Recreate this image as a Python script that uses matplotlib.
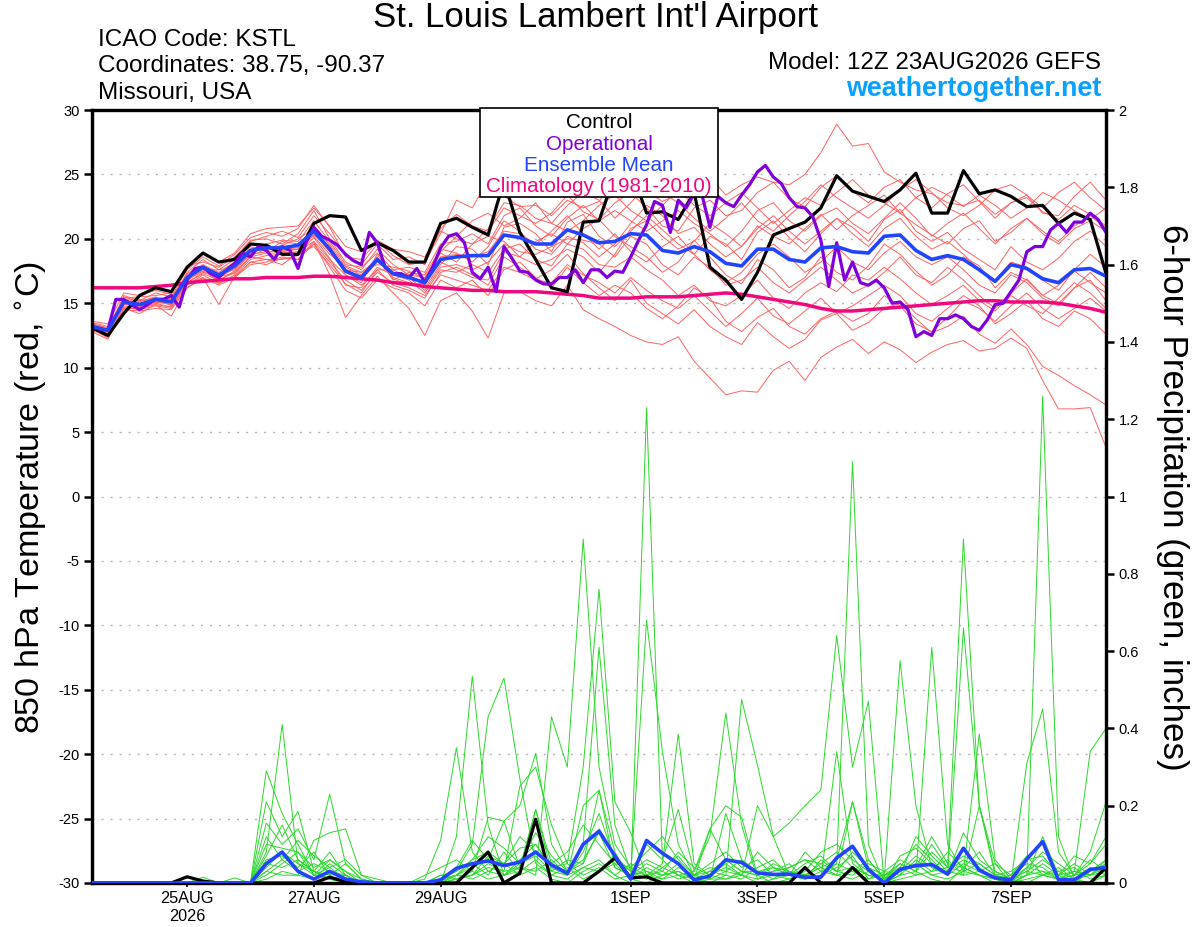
import numpy as np
import matplotlib
matplotlib.use("Agg")
import matplotlib.pyplot as plt
from matplotlib.patches import Rectangle

plt.rcParams['font.family'] = ['Liberation Sans', 'DejaVu Sans']
plt.rcParams['axes.unicode_minus'] = False

# ---- data: 6-hourly GEFS output starting 12Z 23 Aug 2026 ----
start = np.datetime64('2026-08-23T12:00')
times6 = start + np.arange(65) * np.timedelta64(6, 'h')
times3 = start + np.arange(129) * np.timedelta64(3, 'h')   # operational run is 3-hourly

tick_dates = ['2026-08-25', '2026-08-27', '2026-08-29', '2026-09-01',
              '2026-09-03', '2026-09-05', '2026-09-07']
tick_labels = ['25AUG\n2026', '27AUG', '29AUG', '1SEP', '3SEP', '5SEP', '7SEP']

# 850 hPa temperature (C)
control_t = [13.1, 12.5, 14.2, 15.6, 16.2, 15.9, 17.8, 18.9, 18.2, 18.4,
             19.6, 19.5, 18.8, 18.8, 21.2, 21.8, 21.7, 19.1, 19.7, 19.1,
             18.2, 18.2, 21.2, 21.6, 20.9, 20.3, 24.5, 20.5, 18.4, 16.2,
             15.9, 21.3, 21.4, 25.0, 25.5, 22.0, 22.1, 21.5, 23.6, 17.8,
             16.8, 15.3, 17.4, 20.3, 20.8, 21.3, 22.4, 24.9, 23.7, 23.3,
             22.9, 23.8, 25.1, 22.0, 22.0, 25.3, 23.5, 23.8, 23.3, 22.5,
             22.6, 21.2, 22.0, 21.5, 17.3]

oper_t = [13.2, 13.0, 12.9, 15.3, 15.3, 14.9, 14.5, 14.9, 15.3, 15.3,
          15.6, 14.7, 16.8, 17.7, 17.8, 17.3, 17.0, 17.6, 18.1, 18.9,
          18.6, 19.4, 19.1, 18.4, 19.4, 19.1, 17.7, 19.7, 20.9, 20.2,
          19.9, 19.5, 18.8, 18.3, 18.0, 20.5, 19.7, 17.8, 17.3, 17.3,
          17.0, 17.7, 16.6, 17.8, 19.3, 20.2, 20.4, 19.7, 17.4, 16.9,
          17.8, 15.9, 19.4, 18.5, 17.5, 17.4, 16.8, 16.5, 16.5, 17.0,
          17.0, 17.6, 16.6, 17.6, 17.6, 17.0, 17.5, 17.4, 18.6, 19.9,
          21.1, 22.9, 22.6, 20.5, 23.0, 22.4, 23.5, 23.4, 20.9, 23.3,
          22.8, 22.5, 23.4, 24.2, 25.2, 25.7, 24.8, 24.3, 23.2, 22.5,
          22.4, 21.7, 19.9, 16.3, 19.7, 16.8, 18.2, 16.6, 16.4, 16.8,
          16.2, 15.0, 15.1, 14.5, 12.4, 12.8, 12.5, 13.8, 13.8, 14.1,
          13.8, 13.2, 12.9, 13.7, 14.9, 15.0, 15.9, 16.8, 19.0, 19.4,
          19.4, 20.7, 21.2, 20.5, 21.3, 21.3, 22.0, 21.5, 20.5]

mean_t = [13.2, 12.9, 15.1, 14.9, 15.3, 15.1, 17.0, 17.8, 17.2, 17.9,
          19.1, 19.3, 19.3, 19.5, 20.6, 19.2, 17.5, 17.0, 18.4, 17.3,
          17.0, 16.6, 18.4, 18.6, 18.7, 18.7, 20.3, 20.1, 19.6, 19.6,
          20.7, 20.3, 19.7, 19.8, 20.4, 20.3, 19.1, 18.9, 19.4, 19.0,
          18.1, 17.9, 19.2, 19.2, 18.4, 18.2, 19.3, 19.4, 19.0, 18.9,
          20.2, 20.3, 19.1, 18.4, 18.7, 18.4, 17.6, 16.7, 18.0, 17.7,
          16.9, 16.6, 17.6, 17.7, 17.1]

clim_t = [16.2, 16.2, 16.2, 16.2, 16.3, 16.4, 16.6, 16.7, 16.8, 16.9,
          16.9, 17.0, 17.0, 17.0, 17.1, 17.1, 17.0, 16.9, 16.8, 16.6,
          16.5, 16.3, 16.2, 16.1, 16.0, 16.0, 15.9, 15.9, 15.9, 15.8,
          15.7, 15.6, 15.4, 15.4, 15.4, 15.5, 15.5, 15.5, 15.6, 15.7,
          15.8, 15.7, 15.5, 15.3, 15.1, 14.9, 14.6, 14.4, 14.4, 14.5,
          14.6, 14.7, 14.8, 14.9, 15.0, 15.1, 15.2, 15.2, 15.1, 15.1,
          15.1, 15.0, 14.8, 14.6, 14.3]

temp_members = [
    [13.4, 12.6, 15.6, 15.2, 15.8, 15.5, 17.6, 18.6, 17.9, 18.8,
     20.1, 20.5, 20.2, 20.8, 22.6, 20.9, 18.6, 18.4, 19.8, 18.7,
     18.0, 18.2, 20.4, 23.0, 22.4, 24.6, 23.3, 22.5, 22.6, 21.8,
     23.0, 22.4, 22.9, 24.6, 24.8, 23.7, 22.9, 23.5, 24.2, 24.8,
     23.4, 24.2, 24.8, 24.4, 24.2, 25.0, 26.7, 28.9, 27.2, 27.4,
     25.2, 24.4, 23.8, 23.5, 22.8, 22.6, 23.0, 21.9, 22.8, 23.2,
     22.1, 21.5, 22.6, 21.9, 21.0],
    [13.0, 12.3, 14.6, 14.2, 14.9, 14.0, 16.2, 17.0, 14.9, 17.1,
     18.2, 18.0, 18.5, 18.4, 19.8, 17.2, 13.9, 15.6, 17.1, 15.8,
     14.6, 12.5, 15.2, 15.8, 14.4, 12.3, 15.8, 15.9, 15.2, 14.8,
     16.4, 14.5, 13.8, 13.2, 12.5, 12.0, 11.8, 12.4, 10.5, 9.2,
     7.9, 8.2, 8.1, 9.8, 10.5, 9.0, 10.8, 11.6, 12.2, 11.1,
     12.0, 11.4, 10.4, 11.2, 11.8, 12.1, 11.3, 11.5, 12.3, 11.5,
     9.0, 6.8, 6.8, 6.9, 3.8],
    [13.3, 12.8, 14.8, 14.6, 15.0, 14.7, 16.6, 17.3, 16.8, 17.4,
     18.6, 18.4, 18.0, 18.9, 19.4, 18.0, 16.5, 15.8, 17.6, 16.4,
     16.0, 15.4, 17.4, 17.8, 17.2, 16.4, 18.6, 17.8, 16.9, 17.6,
     18.8, 17.3, 16.2, 15.2, 16.8, 15.0, 14.2, 13.4, 14.5, 13.2,
     12.4, 11.8, 13.5, 12.4, 11.5, 12.2, 13.7, 14.2, 12.9, 13.5,
     14.6, 15.0, 13.8, 12.7, 13.2, 14.0, 12.6, 11.9, 13.0, 11.8,
     10.1, 9.4, 8.6, 7.9, 7.1],
    [13.5, 13.2, 15.4, 15.5, 15.6, 15.8, 17.9, 18.2, 17.8, 18.6,
     19.8, 20.2, 20.6, 20.1, 21.8, 20.4, 18.8, 18.0, 19.6, 18.4,
     18.6, 18.0, 20.8, 21.9, 21.0, 20.6, 22.4, 21.8, 21.2, 22.0,
     23.4, 22.1, 21.5, 22.8, 23.6, 22.4, 21.0, 20.6, 22.4, 23.0,
     21.8, 22.2, 23.6, 24.4, 23.1, 22.5, 24.0, 24.9, 23.7, 22.8,
     24.0, 24.6, 23.2, 22.4, 23.5, 24.2, 22.9, 21.6, 22.8, 23.4,
     22.0, 21.8, 23.3, 24.4, 23.0],
    [13.1, 12.7, 15.0, 14.7, 15.4, 14.8, 16.8, 17.6, 17.3, 17.6,
     18.9, 19.6, 19.0, 19.2, 21.0, 19.5, 17.2, 16.6, 18.8, 17.0,
     16.6, 16.2, 18.0, 19.4, 19.2, 18.0, 20.9, 21.2, 20.4, 19.0,
     21.3, 21.9, 20.2, 19.4, 20.6, 21.8, 20.7, 19.6, 18.8, 20.2,
     19.6, 18.4, 20.5, 21.4, 20.1, 19.0, 20.4, 21.6, 20.9, 19.8,
     21.5, 22.3, 20.6, 19.8, 20.5, 19.2, 18.4, 17.6, 19.4, 18.2,
     17.6, 18.5, 19.8, 20.6, 19.4],
    [12.9, 12.5, 15.3, 15.0, 15.1, 15.4, 17.2, 17.9, 16.9, 18.0,
     19.4, 19.0, 19.8, 19.6, 20.2, 18.8, 17.9, 17.4, 18.0, 17.8,
     17.5, 16.9, 18.9, 18.2, 19.6, 20.2, 19.8, 18.6, 19.8, 20.4,
     19.6, 20.8, 21.5, 20.2, 19.4, 18.6, 17.4, 18.2, 19.9, 18.6,
     17.2, 16.5, 18.4, 17.6, 16.2, 17.0, 18.6, 17.4, 16.8, 17.9,
     19.6, 18.8, 17.5, 16.4, 17.2, 18.6, 17.9, 16.2, 17.4, 16.8,
     15.6, 16.4, 17.5, 16.6, 15.8],
    [13.4, 13.0, 14.9, 15.3, 15.0, 15.2, 16.9, 17.5, 17.6, 17.8,
     18.7, 19.2, 19.5, 20.0, 20.8, 19.6, 17.8, 17.2, 18.6, 16.8,
     17.4, 17.2, 19.2, 18.9, 18.2, 19.4, 21.4, 20.6, 19.2, 18.8,
     20.2, 19.7, 18.6, 19.6, 21.2, 22.6, 21.8, 20.4, 20.9, 19.6,
     18.6, 19.4, 21.0, 20.2, 19.6, 20.8, 21.9, 20.7, 21.8, 22.6,
     23.4, 22.0, 21.1, 20.3, 19.6, 20.8, 21.4, 19.8, 20.5, 21.6,
     20.4, 19.6, 20.8, 21.4, 20.6],
    [13.0, 12.4, 14.7, 14.5, 14.8, 14.6, 16.4, 17.2, 16.5, 17.2,
     18.4, 18.7, 18.8, 18.9, 20.1, 18.5, 16.4, 16.2, 17.8, 17.2,
     16.8, 15.8, 17.6, 17.4, 18.0, 17.4, 19.2, 19.6, 18.4, 17.9,
     19.6, 19.2, 18.0, 17.8, 18.6, 17.6, 16.8, 15.6, 16.4, 15.2,
     14.8, 15.6, 16.8, 15.4, 14.6, 15.8, 16.6, 15.9, 17.2, 16.8,
     17.8, 16.9, 15.8, 14.9, 15.6, 16.4, 15.2, 14.4, 15.6, 14.8,
     14.2, 15.4, 16.6, 15.8, 14.6],
    [13.2, 12.8, 15.5, 15.1, 15.5, 15.0, 17.4, 18.4, 17.6, 18.4,
     19.9, 20.0, 19.6, 20.4, 22.2, 20.0, 18.2, 17.6, 19.2, 18.0,
     17.2, 17.0, 19.0, 20.2, 21.4, 22.0, 21.0, 21.6, 22.8, 21.2,
     20.6, 21.4, 22.6, 23.4, 22.2, 21.4, 22.6, 23.8, 22.6, 21.8,
     22.8, 23.6, 22.4, 21.2, 22.2, 23.2, 22.6, 23.6, 24.6, 23.4,
     22.8, 22.0, 23.2, 24.0, 23.4, 22.5, 23.4, 22.6, 21.6, 22.4,
     23.6, 23.0, 22.2, 21.5, 22.4],
    [13.3, 12.9, 15.2, 15.0, 15.2, 15.3, 17.1, 17.7, 17.0, 17.7,
     19.0, 19.4, 19.2, 19.3, 20.4, 19.0, 17.4, 16.8, 18.2, 17.4,
     17.2, 16.4, 18.6, 18.8, 18.6, 19.0, 20.6, 20.4, 19.6, 20.6,
     21.8, 20.4, 19.2, 20.4, 19.0, 18.2, 19.4, 20.2, 18.8, 17.6,
     16.6, 17.4, 18.8, 19.6, 18.6, 17.4, 18.2, 19.4, 18.2, 17.6,
     18.9, 19.8, 18.6, 18.0, 18.6, 17.6, 16.4, 15.8, 17.2, 16.6,
     15.4, 14.8, 16.2, 17.4, 16.2],
    [12.8, 12.2, 14.5, 14.4, 14.6, 14.5, 16.2, 16.9, 16.6, 17.0,
     18.0, 18.2, 18.6, 18.4, 19.6, 17.8, 16.0, 15.4, 16.8, 16.2,
     15.8, 14.8, 16.8, 16.2, 16.8, 15.6, 17.6, 18.2, 17.0, 16.2,
     17.8, 16.6, 15.6, 16.4, 15.8, 14.6, 13.8, 14.8, 16.2, 15.4,
     13.6, 12.8, 13.9, 14.6, 13.2, 12.6, 13.8, 14.4, 13.6, 14.2,
     15.6, 14.8, 13.4, 12.8, 13.9, 15.2, 14.6, 13.6, 14.8, 15.8,
     14.6, 13.8, 14.6, 15.4, 14.4],
    [13.6, 13.4, 15.8, 15.6, 16.0, 15.7, 17.8, 18.8, 18.2, 18.9,
     20.4, 20.8, 20.9, 21.0, 22.4, 21.0, 19.4, 19.0, 19.9, 19.2,
     19.0, 18.6, 20.6, 20.0, 19.6, 20.8, 22.8, 22.6, 21.6, 21.2,
     22.6, 23.6, 23.0, 21.6, 22.8, 24.2, 23.6, 22.8, 21.6, 20.6,
     21.6, 22.8, 21.4, 20.6, 21.8, 22.9, 24.2, 23.2, 22.4, 21.6,
     22.6, 23.8, 24.6, 23.6, 22.4, 21.8, 22.6, 23.8, 24.2, 23.4,
     22.4, 23.6, 24.4, 23.2, 22.2],
    [13.0, 12.6, 15.0, 14.8, 15.2, 14.9, 16.6, 17.4, 17.1, 17.3,
     18.6, 18.9, 18.9, 19.0, 19.8, 18.4, 17.2, 16.4, 17.6, 17.6,
     17.0, 16.0, 17.8, 18.0, 17.6, 18.2, 19.6, 19.0, 18.8, 19.4,
     20.0, 19.9, 19.6, 18.6, 20.2, 19.6, 18.0, 17.2, 18.6, 17.8,
     16.4, 16.8, 17.8, 16.6, 15.8, 16.8, 17.8, 16.8, 15.8, 16.4,
     17.4, 18.6, 17.2, 16.6, 17.8, 16.8, 15.6, 14.6, 15.8, 16.9,
     15.6, 15.0, 16.2, 16.8, 15.2],
    [13.2, 12.8, 14.9, 14.8, 15.1, 14.9, 16.8, 17.5, 16.8, 17.5,
     18.8, 19.0, 19.1, 19.2, 20.3, 19.4, 17.6, 17.4, 18.4, 16.9,
     16.4, 16.6, 18.2, 17.6, 17.0, 16.8, 19.0, 18.6, 18.0, 18.4,
     19.2, 18.6, 17.4, 18.8, 20.8, 21.4, 20.2, 19.2, 19.8, 21.2,
     20.4, 19.4, 20.8, 21.8, 20.6, 19.6, 20.6, 21.6, 20.4, 19.4,
     20.8, 21.6, 20.2, 19.2, 19.8, 18.8, 17.6, 16.8, 18.2, 17.8,
     16.8, 16.0, 17.6, 18.8, 17.8],
    [13.4, 13.1, 15.3, 15.2, 15.4, 15.4, 17.3, 18.0, 17.4, 18.2,
     19.2, 19.6, 19.9, 19.8, 21.4, 19.8, 18.0, 17.8, 18.9, 17.6,
     17.8, 17.4, 19.6, 19.8, 20.4, 19.6, 21.8, 22.4, 21.0, 20.2,
     21.6, 22.6, 21.4, 22.2, 21.4, 20.6, 21.4, 22.2, 21.2, 20.4,
     19.4, 20.6, 22.2, 22.8, 21.4, 20.6, 21.8, 22.4, 21.2, 20.4,
     21.6, 22.8, 21.6, 20.2, 21.2, 22.0, 20.8, 19.6, 20.8, 21.6,
     20.6, 19.8, 21.0, 21.8, 20.8],
    [13.1, 12.6, 14.6, 14.6, 14.9, 14.7, 16.5, 17.0, 16.4, 17.0,
     18.2, 18.4, 18.4, 18.7, 19.6, 18.2, 16.8, 16.0, 17.4, 16.6,
     16.2, 15.6, 17.2, 16.8, 16.4, 16.0, 17.8, 17.4, 16.8, 16.6,
     18.0, 17.2, 16.6, 15.8, 17.0, 16.0, 15.2, 14.6, 15.6, 14.4,
     13.2, 14.2, 15.4, 14.0, 13.4, 14.4, 15.4, 14.2, 14.8, 15.6,
     16.4, 15.6, 14.2, 13.6, 14.6, 15.6, 14.8, 13.4, 14.2, 15.2,
     13.8, 13.2, 14.4, 13.8, 12.6],
]

# 6-hour precipitation (inches)
control_p = [0, 0, 0, 0, 0, 0, 0.016, 0.005, 0, 0,
             0, 0, 0, 0, 0, 0.015, 0.003, 0, 0, 0,
             0, 0, 0, 0, 0.04, 0.08, 0, 0.025, 0.165, 0,
             0, 0, 0.03, 0.065, 0.013, 0.016, 0, 0, 0, 0,
             0, 0, 0, 0, 0, 0.04, 0, 0, 0.04, 0,
             0, 0, 0, 0, 0, 0, 0, 0, 0, 0,
             0, 0, 0, 0, 0.04]

mean_p = [0, 0, 0, 0, 0, 0, 0, 0, 0, 0,
          0, 0.05, 0.08, 0.03, 0.01, 0.03, 0.01, 0.003, 0, 0,
          0, 0, 0.008, 0.038, 0.05, 0.057, 0.045, 0.054, 0.08, 0.047,
          0.025, 0.1, 0.134, 0.07, 0.01, 0.11, 0.077, 0.05, 0.008, 0.018,
          0.06, 0.053, 0.026, 0.022, 0.023, 0.015, 0.015, 0.065, 0.095, 0.035,
          0, 0.035, 0.045, 0.048, 0.023, 0.09, 0.033, 0.013, 0.008, 0.062,
          0.107, 0.008, 0.008, 0.035, 0.04]

precip_members = [
    [0, 0, 0, 0, 0, 0, 0, 0, 0, 0,
     0, 0.29, 0.18, 0.10, 0.02, 0.01, 0, 0, 0, 0,
     0, 0.01, 0.11, 0.35, 0.08, 0.03, 0.05, 0.02, 0.04, 0.01,
     0, 0.03, 0.05, 0.02, 0, 1.23, 0.06, 0.02, 0, 0.01,
     0.03, 0.02, 0, 0.01, 0.02, 0.01, 0.02, 0.05, 1.09, 0.10,
     0, 0.02, 0.03, 0.01, 0, 0.04, 0.02, 0, 0, 0.02,
     1.26, 0.12, 0.01, 0, 0.02],
    [0, 0, 0, 0, 0, 0, 0, 0, 0, 0,
     0, 0.08, 0.41, 0.05, 0.03, 0.02, 0, 0, 0, 0,
     0, 0, 0, 0.12, 0.535, 0.15, 0.02, 0.06, 0.10, 0.04,
     0.02, 0.10, 0.61, 0.15, 0.03, 0.02, 0.05, 0.385, 0.05, 0.02,
     0.01, 0.03, 0.02, 0, 0.01, 0.02, 0.04, 0.02, 0.21, 0.06,
     0.01, 0.05, 0.03, 0.08, 0.04, 0.89, 0.20, 0.03, 0.01, 0.02,
     0.05, 0.02, 0, 0.03, 0.05],
    [0, 0, 0, 0, 0, 0, 0, 0.015, 0, 0,
     0, 0.21, 0.12, 0.185, 0.03, 0.01, 0, 0, 0, 0,
     0, 0, 0.02, 0.03, 0.10, 0.43, 0.53, 0.27, 0.05, 0.02,
     0.04, 0.01, 0.03, 0.06, 0.01, 0, 0.02, 0.03, 0.01, 0,
     0.02, 0.475, 0.305, 0.12, 0.02, 0.01, 0.03, 0.02, 0.01, 0.03,
     0, 0.01, 0.02, 0.61, 0.10, 0.03, 0.02, 0.01, 0, 0.01,
     0.02, 0.01, 0.03, 0.34, 0.40],
    [0, 0, 0, 0, 0, 0, 0, 0, 0, 0.013,
     0, 0.155, 0.10, 0.14, 0.06, 0.23, 0.05, 0.01, 0, 0,
     0, 0, 0, 0.02, 0.04, 0.06, 0.16, 0.20, 0.335, 0.10,
     0.03, 0.05, 0.24, 0.04, 0.02, 0.68, 0.34, 0.10, 0.02, 0.01,
     0.01, 0.02, 0.20, 0.12, 0.155, 0.20, 0.24, 0.64, 0.30, 0.47,
     0, 0.03, 0.05, 0.02, 0.01, 0.03, 0.385, 0.06, 0.01, 0,
     0.02, 0.01, 0.02, 0.06, 0.03],
    [0, 0, 0, 0, 0, 0, 0, 0, 0, 0,
     0, 0.03, 0.02, 0.02, 0.11, 0.13, 0.14, 0.02, 0.01, 0,
     0, 0, 0, 0.01, 0.02, 0.04, 0.03, 0.25, 0.30, 0.15,
     0.05, 0.02, 0.04, 0.01, 0.02, 0.03, 0.01, 0.02, 0.03, 0.12,
     0.44, 0.15, 0.01, 0.02, 0.03, 0.02, 0.01, 0.34, 0.05, 0.02,
     0.01, 0.575, 0.20, 0.04, 0.02, 0.05, 0.03, 0.01, 0, 0.31,
     0.45, 0.08, 0.02, 0.08, 0.21],
    [0, 0, 0, 0, 0, 0, 0, 0, 0, 0,
     0, 0.10, 0.09, 0.08, 0.02, 0.06, 0.03, 0, 0, 0,
     0, 0, 0, 0.02, 0.02, 0.05, 0.03, 0.04, 0.02, 0.43,
     0.30, 0.89, 0.30, 0.10, 0.04, 0.02, 0.03, 0.01, 0.02, 0.01,
     0.18, 0.06, 0.03, 0.04, 0.02, 0.01, 0.06, 0.03, 0.04, 0.02,
     0.02, 0.04, 0.10, 0.06, 0.02, 0.66, 0.20, 0.02, 0, 0.04,
     0.03, 0.02, 0.05, 0.02, 0.06],
    [0, 0, 0, 0, 0, 0, 0, 0, 0, 0,
     0, 0.06, 0.07, 0.04, 0.08, 0.02, 0.05, 0.01, 0, 0,
     0, 0, 0.01, 0.03, 0.06, 0.08, 0.05, 0.09, 0.10, 0.04,
     0.05, 0.30, 0.76, 0.21, 0.13, 0.02, 0.01, 0.04, 0.02, 0.03,
     0.06, 0.03, 0.03, 0.01, 0.04, 0.06, 0.03, 0.05, 0.03, 0.01,
     0.03, 0.06, 0.04, 0.12, 0.05, 0.04, 0.08, 0.02, 0.01, 0.03,
     0.06, 0.03, 0.01, 0.04, 0.02],
    [0, 0, 0, 0, 0, 0, 0, 0, 0, 0,
     0, 0.05, 0.04, 0.06, 0.03, 0.08, 0.02, 0, 0, 0,
     0, 0, 0.02, 0.01, 0.03, 0.17, 0.16, 0.04, 0.19, 0.03,
     0.02, 0.20, 0.24, 0.08, 0.01, 0.10, 0.06, 0.19, 0.03, 0.14,
     0.20, 0.17, 0.02, 0.05, 0.03, 0.02, 0.04, 0.06, 0.21, 0.04,
     0, 0.02, 0.12, 0.07, 0.03, 0.02, 0.20, 0.05, 0, 0.02,
     0.12, 0.02, 0.07, 0.05, 0.10],
    [0, 0, 0, 0, 0, 0, 0, 0, 0, 0,
     0, 0.12, 0.06, 0.03, 0.05, 0.03, 0.02, 0, 0, 0,
     0, 0, 0.01, 0.02, 0.05, 0.02, 0.08, 0.03, 0.06, 0.02,
     0.01, 0.04, 0.06, 0.02, 0.05, 0.03, 0.02, 0.05, 0.01, 0.02,
     0.04, 0.02, 0.01, 0.03, 0.05, 0.01, 0.02, 0.04, 0.07, 0.01,
     0.02, 0.03, 0.05, 0.02, 0.03, 0.06, 0.04, 0.01, 0.02, 0.05,
     0.04, 0.01, 0.03, 0.02, 0.03],
    [0, 0, 0, 0, 0, 0, 0, 0, 0, 0,
     0, 0.02, 0.05, 0.08, 0.04, 0.06, 0.03, 0.01, 0, 0,
     0, 0, 0, 0.01, 0.02, 0.07, 0.05, 0.12, 0.08, 0.05,
     0.08, 0.15, 0.10, 0.05, 0.04, 0.08, 0.12, 0.06, 0.02, 0.05,
     0.08, 0.04, 0.06, 0.02, 0.01, 0.03, 0.08, 0.10, 0.06, 0.03,
     0, 0.07, 0.09, 0.05, 0.02, 0.13, 0.06, 0.03, 0.01, 0.04,
     0.08, 0.05, 0.02, 0.03, 0.06],
    [0, 0, 0, 0, 0, 0, 0, 0, 0, 0,
     0, 0.04, 0.08, 0.05, 0.02, 0.04, 0.01, 0, 0, 0,
     0, 0.02, 0.04, 0.06, 0.03, 0.01, 0.02, 0.05, 0.13, 0.07,
     0.03, 0.06, 0.13, 0.04, 0.02, 0.05, 0.03, 0.08, 0.04, 0.02,
     0.05, 0.02, 0.08, 0.04, 0.02, 0.05, 0.07, 0.03, 0.08, 0.04,
     0.02, 0.05, 0.03, 0.10, 0.04, 0.03, 0.05, 0.02, 0.01, 0.03,
     0.02, 0.04, 0.01, 0.02, 0.04],
    [0, 0, 0, 0, 0, 0, 0, 0, 0, 0,
     0, 0.01, 0.03, 0.02, 0.01, 0.05, 0.02, 0, 0, 0,
     0, 0, 0.005, 0.02, 0.01, 0.03, 0.02, 0.04, 0.03, 0.06,
     0.02, 0.08, 0.18, 0.06, 0.03, 0.01, 0.04, 0.02, 0.01, 0.03,
     0.02, 0.01, 0.04, 0.06, 0.02, 0.08, 0.04, 0.02, 0.03, 0.06,
     0.01, 0.03, 0.07, 0.04, 0.06, 0.02, 0.03, 0.05, 0.02, 0.07,
     0.02, 0.03, 0.04, 0.01, 0.02],
    [0, 0, 0, 0, 0, 0, 0, 0, 0, 0,
     0, 0.07, 0.15, 0.06, 0.03, 0.01, 0.02, 0, 0, 0,
     0, 0, 0.01, 0.04, 0.11, 0.06, 0.02, 0.03, 0.19, 0.05,
     0.02, 0.04, 0.03, 0.05, 0.01, 0.04, 0.02, 0.03, 0.01, 0.14,
     0.06, 0.03, 0.02, 0.04, 0.03, 0.02, 0.05, 0.08, 0.04, 0.02,
     0.01, 0.04, 0.02, 0.03, 0.08, 0.04, 0.02, 0.01, 0, 0.02,
     0.03, 0.01, 0.02, 0.05, 0.12],
    [0, 0, 0, 0, 0, 0, 0, 0, 0, 0,
     0, 0.03, 0.06, 0.11, 0.07, 0.04, 0.06, 0.02, 0, 0,
     0, 0, 0.01, 0.02, 0.06, 0.12, 0.09, 0.05, 0.07, 0.03,
     0.06, 0.05, 0.14, 0.07, 0.03, 0.06, 0.04, 0.07, 0.02, 0.04,
     0.03, 0.06, 0.02, 0.03, 0.04, 0.06, 0.05, 0.03, 0.02, 0.05,
     0.03, 0.02, 0.06, 0.03, 0.04, 0.07, 0.05, 0.02, 0.03, 0.06,
     0.07, 0.02, 0.03, 0.02, 0.05],
]

# ---- figure ----
fig = plt.figure(figsize=(12, 9.27), dpi=100)
ax = fig.add_axes([0.0767, 0.0475, 0.845, 0.8338])
ax2 = ax.twinx()

for v in range(-25, 30, 5):
    ax.axhline(v, color='#b4b4b4', lw=1.0, ls=(0, (1.5, 5)), zorder=0.5)

for m in temp_members:
    ax.plot(times6[:len(m)], m, color='#ff6262', lw=0.7, zorder=1)
ax.plot(times6[:len(clim_t)], clim_t, color='#f0087f', lw=2.5, zorder=3)
ax.plot(times6[:len(control_t)], control_t, color='black', lw=2.3, zorder=4)
ax.plot(times3[:len(oper_t)], oper_t, color='#8000dc', lw=2.3, zorder=5)
ax.plot(times6[:len(mean_t)], mean_t, color='#2244ff', lw=2.6, zorder=6)

for m in precip_members:
    ax2.plot(times6[:len(m)], m, color='#2cd82c', lw=0.7, zorder=1)
ax2.plot(times6[:len(control_p)], control_p, color='black', lw=2.3, zorder=4)
ax2.plot(times6[:len(mean_p)], mean_p, color='#2244ff', lw=2.6, zorder=6)

ax.set_xlim(times6[0], times6[-1])
ax.set_ylim(-30, 30)
ax2.set_ylim(0, 2)

ax.set_yticks(range(-30, 31, 5))
ax2.set_yticks(np.arange(0, 2.01, 0.2))
ax2.set_yticklabels(['0', '0.2', '0.4', '0.6', '0.8', '1', '1.2', '1.4', '1.6', '1.8', '2'])
ax.set_xticks([np.datetime64(d + 'T00:00') for d in tick_dates])
ax.set_xticklabels(tick_labels)

ax.tick_params(axis='y', direction='out', length=6, width=1.8, labelsize=10.5, pad=3)
ax2.tick_params(axis='y', direction='out', length=6, width=1.8, labelsize=10.5, pad=3)
ax.tick_params(axis='x', direction='out', length=3, width=1.2, labelsize=11.7, pad=3)
for a in (ax, ax2):
    for s in a.spines.values():
        s.set_linewidth(2.3)

# titles and annotations
fig.text(0.496, 0.9806, "St. Louis Lambert Int'l Airport", ha='center', va='center', fontsize=25)
fig.text(0.0817, 0.9569, "ICAO Code: KSTL", ha='left', va='center', fontsize=17.5)
fig.text(0.0817, 0.9288, "Coordinates: 38.75, -90.37", ha='left', va='center', fontsize=17.5)
fig.text(0.0817, 0.8997, "Missouri, USA", ha='left', va='center', fontsize=17.5)
fig.text(0.9175, 0.932, "Model: 12Z 23AUG2026 GEFS", ha='right', va='center', fontsize=17.4)
fig.text(0.9175, 0.904, "weathertogether.net", ha='right', va='center', fontsize=19.4,
         fontweight='bold', color='#0aa0ff')

fig.text(0.0267, 0.4639, "850 hPa Temperature (red, $^{\\circ}$C)", rotation=90,
         ha='center', va='center', fontsize=24.6)
fig.text(0.9767, 0.4639, "6-hour Precipitation (green, inches)", rotation=-90,
         ha='center', va='center', fontsize=25.2)

# legend box
fig.add_artist(Rectangle((0.4, 0.7875), 0.1983, 0.096, transform=fig.transFigure,
                         facecolor='white', edgecolor='black', lw=1.2, zorder=10))
legend_items = [("Control", 'black'), ("Operational", '#8000dc'),
                ("Ensemble Mean", '#2244ff'), ("Climatology (1981-2010)", '#f0087f')]
for k, (txt, col) in enumerate(legend_items):
    fig.text(0.4992, 0.8675 - k * 0.0230, txt, ha='center', va='center',
             fontsize=14.9, color=col, zorder=11)

fig.savefig("out.png", dpi=100)
